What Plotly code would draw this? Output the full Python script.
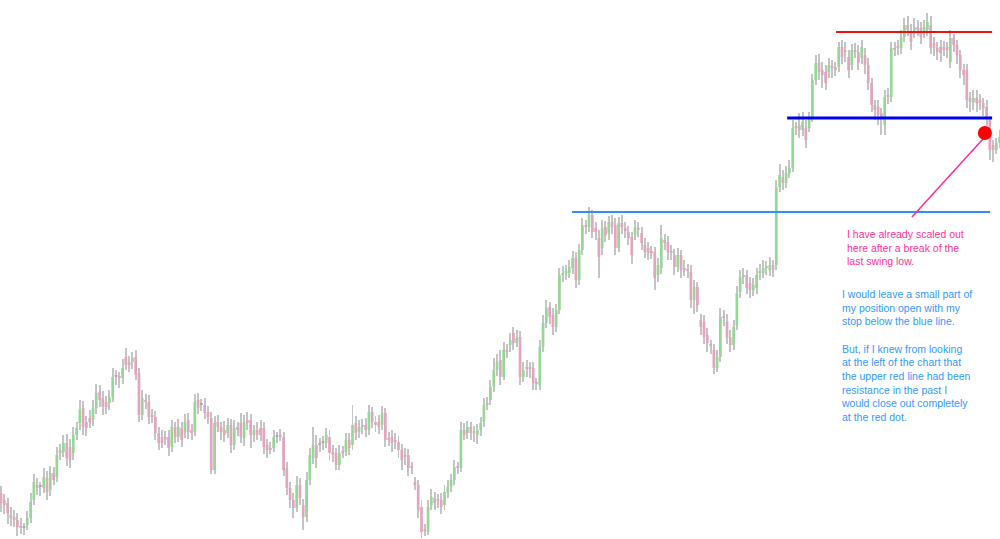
import plotly.graph_objects as go

# ---- OHLC data (one candle per period, arbitrary price units) ----
opens = [
    47, 40, 37, 25, 23, 20, 13, 12, 15, 22,
    40, 55, 53, 52, 62, 50, 67, 63, 87, 88,
    97, 93, 87, 105, 117, 132, 118, 122, 120, 132,
    148, 142, 138, 137, 143, 163, 163, 162, 183, 178,
    178, 183, 167, 125, 140, 138, 125, 123, 107, 103,
    103, 103, 93, 113, 103, 112, 108, 120, 110, 108,
    140, 135, 135, 128, 122, 70, 118, 113, 110, 107,
    115, 95, 113, 117, 102, 120, 120, 105, 110, 112,
    112, 95, 92, 92, 103, 105, 103, 72, 52, 40,
    32, 55, 35, 23, 60, 82, 95, 95, 97, 97,
    103, 88, 87, 75, 88, 88, 100, 95, 117, 108,
    115, 115, 110, 128, 118, 118, 115, 127, 102, 103,
    100, 98, 90, 85, 85, 73, 58, 55, 33, 10,
    8, 35, 42, 40, 40, 35, 47, 53, 60, 73,
    72, 110, 107, 113, 108, 105, 110, 118, 135, 140,
    153, 170, 180, 163, 190, 195, 207, 197, 203, 163,
    172, 172, 172, 157, 155, 193, 217, 233, 225, 213,
    230, 265, 267, 267, 272, 282, 260, 290, 315, 313,
    325, 312, 302, 292, 313, 307, 318, 315, 292, 317,
    312, 308, 303, 305, 312, 307, 295, 292, 288, 288,
    265, 272, 300, 298, 288, 285, 273, 285, 272, 270,
    268, 240, 253, 220, 218, 205, 195, 190, 172, 183,
    223, 218, 203, 195, 215, 248, 263, 265, 257, 250,
    252, 267, 267, 272, 270, 275, 275, 353, 363, 357,
    367, 372, 412, 415, 410, 412, 412, 422, 460, 477,
    470, 468, 468, 473, 473, 473, 493, 490, 483, 475,
    490, 488, 482, 485, 475, 457, 435, 433, 427, 415,
    445, 443, 492, 493, 492, 503, 515, 508, 507, 513,
    512, 508, 510, 515, 497, 492, 493, 493, 493, 478,
    502, 495, 485, 470, 470, 442, 438, 442, 440, 437,
    433, 420, 395, 390, 397,
]
closes = [
    37, 35, 27, 22, 20, 13, 12, 12, 22, 38,
    58, 52, 53, 63, 48, 67, 60, 85, 90, 97,
    82, 80, 105, 112, 130, 113, 112, 118, 132, 147,
    140, 133, 133, 143, 163, 163, 162, 172, 175, 175,
    182, 165, 125, 142, 138, 123, 123, 107, 97, 97,
    100, 92, 113, 103, 113, 100, 118, 108, 107, 138,
    132, 135, 127, 123, 70, 117, 113, 108, 105, 115,
    95, 112, 110, 103, 118, 117, 105, 110, 105, 105,
    93, 90, 90, 103, 103, 103, 70, 52, 40, 32,
    55, 42, 23, 60, 85, 95, 82, 95, 97, 105,
    87, 85, 75, 87, 87, 100, 92, 115, 107, 113,
    113, 110, 128, 118, 115, 113, 127, 100, 100, 97,
    98, 90, 80, 83, 72, 72, 55, 30, 8, 9,
    33, 43, 37, 39, 33, 48, 53, 60, 73, 72,
    110, 105, 113, 107, 107, 110, 117, 135, 137, 153,
    170, 178, 163, 190, 188, 200, 197, 202, 163, 170,
    171, 171, 157, 156, 193, 217, 232, 223, 213, 230,
    265, 267, 268, 273, 282, 260, 290, 315, 313, 325,
    308, 308, 283, 312, 305, 318, 313, 292, 317, 313,
    309, 302, 285, 313, 310, 297, 288, 287, 287, 262,
    275, 302, 297, 288, 287, 273, 285, 270, 270, 269,
    240, 253, 235, 213, 203, 197, 194, 172, 183, 223,
    222, 202, 195, 213, 247, 263, 265, 252, 250, 255,
    265, 268, 272, 273, 275, 270, 353, 365, 357, 367,
    372, 412, 413, 410, 418, 400, 422, 460, 477, 468,
    465, 457, 475, 472, 470, 493, 483, 488, 470, 490,
    488, 477, 493, 475, 457, 435, 430, 425, 422, 443,
    443, 492, 490, 492, 503, 515, 510, 498, 513, 510,
    503, 513, 518, 492, 492, 488, 487, 490, 490, 502,
    495, 485, 470, 465, 440, 438, 442, 437, 437, 432,
    422, 390, 390, 397, 403,
]
highs = [
    54, 46, 42, 33, 30, 27, 22, 17, 29, 47,
    66, 62, 58, 72, 69, 74, 73, 93, 96, 105,
    106, 101, 113, 118, 140, 139, 124, 130, 140, 156,
    155, 149, 144, 150, 172, 170, 168, 181, 192, 184,
    188, 190, 172, 150, 146, 145, 131, 129, 113, 110,
    109, 110, 120, 118, 121, 118, 126, 127, 116, 146,
    147, 141, 142, 134, 128, 124, 125, 118, 119, 122,
    121, 120, 118, 127, 125, 128, 126, 115, 118, 120,
    118, 101, 98, 110, 108, 111, 108, 78, 58, 47,
    64, 62, 41, 68, 92, 113, 105, 102, 104, 112,
    110, 95, 92, 95, 94, 107, 107, 135, 124, 120,
    121, 122, 135, 133, 124, 125, 134, 132, 108, 110,
    107, 104, 96, 92, 91, 78, 63, 60, 40, 16,
    40, 51, 48, 46, 47, 55, 60, 66, 80, 78,
    118, 117, 119, 118, 114, 116, 123, 142, 143, 160,
    182, 186, 190, 198, 196, 207, 213, 210, 209, 178,
    180, 178, 178, 162, 200, 225, 240, 238, 232, 236,
    272, 274, 275, 280, 289, 288, 296, 322, 320, 333,
    330, 318, 310, 320, 319, 324, 325, 322, 323, 325,
    318, 314, 308, 320, 318, 313, 302, 298, 294, 293,
    282, 315, 306, 304, 295, 291, 292, 290, 280, 276,
    275, 260, 258, 226, 225, 212, 200, 196, 190, 232,
    230, 226, 210, 220, 254, 270, 272, 270, 263, 262,
    272, 276, 280, 279, 283, 280, 360, 376, 370, 374,
    380, 420, 418, 427, 428, 420, 428, 466, 485, 486,
    478, 475, 482, 480, 478, 498, 500, 498, 490, 496,
    497, 495, 500, 492, 482, 462, 440, 440, 432, 450,
    452, 498, 498, 500, 510, 522, 524, 516, 522, 520,
    518, 520, 527, 524, 503, 498, 500, 499, 498, 510,
    506, 500, 490, 476, 476, 448, 450, 450, 446, 442,
    440, 424, 400, 402, 410,
]
lows = [
    28, 26, 16, 14, 13, 4, 6, 5, 10, 17,
    35, 45, 44, 47, 40, 44, 55, 58, 80, 83,
    74, 72, 80, 100, 110, 105, 104, 112, 114, 126,
    133, 125, 126, 130, 138, 155, 152, 156, 170, 168,
    171, 160, 118, 120, 131, 116, 117, 100, 90, 92,
    95, 84, 88, 97, 98, 93, 102, 101, 100, 104,
    126, 129, 121, 116, 66, 66, 108, 100, 98, 102,
    87, 90, 104, 97, 94, 110, 92, 98, 100, 99,
    86, 82, 86, 88, 97, 99, 64, 45, 32, 22,
    28, 35, 10, 18, 55, 76, 72, 88, 90, 92,
    80, 78, 70, 70, 82, 84, 85, 90, 100, 102,
    106, 103, 105, 112, 108, 106, 110, 93, 94, 88,
    91, 82, 70, 75, 64, 66, 50, 22, 2, 4,
    5, 30, 30, 32, 26, 30, 42, 48, 55, 66,
    68, 100, 101, 100, 98, 96, 104, 113, 130, 135,
    148, 164, 155, 160, 182, 188, 190, 193, 155, 158,
    163, 162, 150, 150, 150, 188, 212, 216, 205, 208,
    226, 258, 260, 262, 266, 252, 255, 285, 306, 308,
    302, 300, 262, 285, 298, 300, 306, 285, 288, 306,
    302, 295, 276, 300, 303, 290, 282, 280, 281, 250,
    258, 266, 290, 280, 280, 265, 268, 262, 264, 262,
    232, 226, 228, 205, 196, 188, 186, 166, 168, 178,
    214, 196, 188, 190, 210, 242, 256, 246, 242, 244,
    246, 260, 262, 265, 264, 263, 270, 348, 350, 352,
    362, 368, 405, 402, 404, 392, 408, 418, 455, 460,
    452, 450, 462, 462, 464, 468, 476, 478, 462, 470,
    482, 470, 476, 466, 450, 428, 420, 415, 405, 405,
    436, 438, 484, 485, 486, 498, 504, 490, 502, 504,
    496, 502, 504, 486, 484, 480, 478, 484, 482, 472,
    488, 476, 462, 455, 432, 428, 430, 428, 430, 424,
    414, 380, 378, 386, 392,
]

# ---- Drawn annotation levels (price units) and their candle spans ----
red_level, red_span = 508, (254.2, 301.7)
blue_level, blue_span = 422, (239.3, 301.7)
lightblue_level, lightblue_span = 328, (173.8, 301.1)
exit_point = (299.5, 407)
arrow_from = (277.3, 323)
arrow_to = (299.2, 402)

pink_note = "I have already scaled out<br>here after a break of the<br>last swing low."
blue_note = ("I would leave a small part of<br>my position open with my<br>stop below the blue line."
             "<br><br>But, if I knew from looking<br>at the left of the chart that<br>the upper red line had been"
             "<br>resistance in the past I<br>would close out completely<br>at the red dot.")

n = len(opens)
idx = list(range(n))
wick_base = lows
wick_len = [h - l for h, l in zip(highs, lows)]
body_base = [min(o, c) for o, c in zip(opens, closes)]
body_len = [max(abs(c - o), 1.3) for o, c in zip(opens, closes)]
body_col = ["#96d696" if c > o else ("#e3a4be" if c < o else "#aaaaaa") for o, c in zip(opens, closes)]

fig = go.Figure()
fig.add_trace(go.Bar(x=idx, y=wick_len, base=wick_base, width=0.3,
                     marker=dict(color="#c4c4c4", line=dict(width=0)), hoverinfo="skip"))
fig.add_trace(go.Bar(x=idx, y=body_len, base=body_base, width=0.82,
                     marker=dict(color=body_col, line=dict(width=0)), hoverinfo="skip"))

fig.add_trace(go.Scatter(x=list(lightblue_span), y=[lightblue_level] * 2, mode="lines",
                         line=dict(color="#2f8fff", width=2), hoverinfo="skip"))
fig.add_trace(go.Scatter(x=list(blue_span), y=[blue_level] * 2, mode="lines",
                         line=dict(color="#0000ee", width=3), hoverinfo="skip"))
fig.add_trace(go.Scatter(x=list(red_span), y=[red_level] * 2, mode="lines",
                         line=dict(color="#ee1111", width=2), hoverinfo="skip"))
fig.add_trace(go.Scatter(x=[arrow_from[0], arrow_to[0]], y=[arrow_from[1], arrow_to[1]], mode="lines",
                         line=dict(color="#ff2a9a", width=1.5), hoverinfo="skip"))
fig.add_trace(go.Scatter(x=[exit_point[0]], y=[exit_point[1]], mode="markers",
                         marker=dict(color="#ff0000", size=14, line=dict(width=0)), hoverinfo="skip"))

fig.add_annotation(text=pink_note, xref="paper", yref="paper", x=0.845, y=1 - 226 / 539,
                   xanchor="left", yanchor="top", align="left", showarrow=False,
                   font=dict(family="Liberation Sans, Arial", size=10.5, color="#ff3399"))
fig.add_annotation(text=blue_note, xref="paper", yref="paper", x=0.839, y=1 - 286 / 539,
                   xanchor="left", yanchor="top", align="left", showarrow=False,
                   font=dict(family="Liberation Sans, Arial", size=10.5, color="#3399ff"))

fig.update_layout(
    width=1000, height=539,
    margin=dict(l=0, r=0, t=0, b=0),
    paper_bgcolor="white", plot_bgcolor="white",
    showlegend=False, barmode="overlay", hovermode=False,
    xaxis=dict(range=[-0.304, 304.1], visible=False, fixedrange=True),
    yaxis=dict(range=[1, 540], visible=False, fixedrange=True),
)
fig.write_html(
    "out.html",
    config={"displayModeBar": False},
    post_script="document.body.style.margin='0';document.body.style.padding='0';"
                "document.body.style.overflow='hidden';",
)
